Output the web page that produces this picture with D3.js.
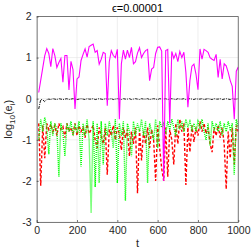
<!DOCTYPE html>
<html><head><meta charset="utf-8">
<script src="https://cdn.jsdelivr.net/npm/d3@7"></script>
<style>body{margin:0;background:#fff}svg{display:block}</style>
</head><body>
<script>
const tValues = d3.range(10, 1001, 10);
const magenta = [0.15,0.45,0.75,1.05,1.22,1.1,0.78,1.22,1.05,0.76,0.88,0.98,0.40,1.05,1.05,0.21,0.91,0.71,-0.25,0.48,0.53,0.93,1.08,1.21,1.01,1.27,1.3,1.33,1.13,1.17,0.84,0.96,1.13,1.1,-0.17,0.9,1.17,1.05,1.0,1.2,-0.5,0.85,1.18,0.96,1.18,1.0,1.25,0.85,0.9,1.11,1.24,1.0,1.1,1.17,1.2,0.44,0.72,0.76,1.1,1.25,1.26,1.16,-2.0,1.17,1.2,-0.6,1.15,0.98,1.1,0.9,1.15,1.0,1.13,0.64,-0.21,0.44,0.79,0.84,0.6,0.22,1.21,0.96,1.2,1.17,1.13,1.0,0.96,0.93,1.08,0.52,0.96,0.48,0.85,0.8,0.64,0.44,0.3,-0.5,0.67,0.77];
const black = [-0.25,-0.02,-0.03,-0.07,-0.02,-0.01,-0.02,0,-0.01,-0.02,0,-0.01,-0.02,-0.01,0,-0.02,-0.01,0,-0.01,-0.02,-0.01,0,-0.01,-0.02,0,-0.01,-0.01,0,-0.02,-0.01,0,-0.01,-0.02,0,-0.01,-0.01,0,-0.02,-0.01,0,-0.01,-0.02,0,-0.01,-0.01,0,-0.02,-0.01,0,-0.01,-0.02,0,-0.01,-0.01,0,-0.02,-0.01,0,-0.01,-0.02,0,-0.01,-0.01,0,-0.02,-0.01,0,-0.01,-0.02,0,-0.01,-0.01,0,-0.02,-0.01,0,-0.01,-0.02,0,-0.01,-0.01,0,-0.02,-0.01,0,-0.01,-0.02,0,-0.01,-0.01,0,-0.02,-0.01,0,-0.01,-0.02,0,-0.01,-0.01,0];
const red = [-0.6,-2.12,-0.65,-1.45,-0.6,-0.75,-0.62,-0.8,-0.65,-0.9,-0.6,-0.75,-0.68,-0.95,-0.6,-0.8,-0.7,-0.85,-0.6,-0.9,-0.65,-0.8,-0.7,-0.95,-0.62,-0.85,-0.75,-0.65,-1.0,-1.2,-0.7,-0.9,-1.1,-0.7,-1.85,-0.75,-0.9,-0.65,-1.0,-0.7,-0.85,-1.25,-0.7,-0.95,-0.75,-1.4,-0.8,-1.1,-0.7,-2.3,-0.75,-1.5,-0.8,-1.1,-0.7,-1.2,-0.75,-1.0,-2.0,-0.65,-1.2,-1.7,-2.0,-0.7,-1.9,-0.75,-1.0,-1.6,-0.6,-1.1,-0.5,-0.8,-0.6,-2.1,-0.7,-1.3,-0.65,-1.05,-0.7,-0.9,-0.55,-0.8,-0.6,-0.85,-0.7,-1.1,-1.3,-0.7,-0.9,-0.65,-0.95,-0.7,-1.1,-2.2,-0.8,-1.45,-0.7,-1.6,-0.65,-0.8];
const green = [-1.0,-0.5,-0.8,-0.45,-0.7,-1.35,-0.55,-0.9,-0.6,-0.75,-1.9,-0.6,-0.85,-1.4,-0.6,-0.8,-0.55,-0.9,-0.65,-0.8,-0.55,-1.65,-0.6,-0.9,-0.5,-1.0,-2.78,-0.55,-2.15,-0.6,-2.05,-0.55,-1.6,-0.6,-0.9,-0.55,-0.8,-1.2,-0.5,-2.05,-0.6,-0.9,-0.55,-2.48,-0.6,-0.8,-1.4,-0.55,-0.9,-0.6,-0.8,-0.5,-0.9,-0.55,-2.05,-0.6,-0.8,-1.0,-0.5,-1.2,-0.55,-0.7,-0.6,-0.85,-0.55,-0.75,-0.5,-0.7,-0.9,-0.5,-0.75,-0.55,-0.8,-0.5,-0.7,-0.55,-0.75,-0.6,-0.8,-0.55,-0.7,-0.5,-0.8,-1.0,-0.6,-1.15,-0.55,-0.75,-0.6,-0.8,-0.55,-0.9,-0.6,-0.8,-0.55,-0.75,-0.6,-1.85,-0.5,-0.7];
const xTicks = [0,200,400,600,800,1000];
const yTicks = [-3,-2,-1,0,1,2];
const titleText = "\u03F5=0.00001";

const W = 251, H = 251;
const m = {l:36.7, r:238.3, t:16.5, b:222};
const svg = d3.select("body").append("svg").attr("width",W).attr("height",H);
const x = d3.scaleLinear().domain([0,1000]).range([m.l,m.r]);
const y = d3.scaleLinear().domain([-3,2]).range([m.b,m.t]);
const font = "'Liberation Sans', Arial, Helvetica, sans-serif";
const fmt = d => String(d);

// grid
const g = svg.append("g");
g.selectAll(".gx").data(xTicks).join("line").attr("x1",d=>x(d)).attr("x2",d=>x(d)).attr("y1",m.t).attr("y2",m.b).attr("stroke","#e3e3e3").attr("stroke-width",0.6);
g.selectAll(".gy").data(yTicks).join("line").attr("y1",d=>y(d)).attr("y2",d=>y(d)).attr("x1",m.l).attr("x2",m.r).attr("stroke","#e3e3e3").attr("stroke-width",0.6);

svg.append("clipPath").attr("id","c").append("rect").attr("x",m.l).attr("y",m.t).attr("width",m.r-m.l).attr("height",m.b-m.t);
const lines = svg.append("g").attr("clip-path","url(#c)");
const line = d3.line().x((d,i)=>x(tValues[i])).y(d=>y(d));
lines.append("path").datum(red).attr("d",line).attr("fill","none").attr("stroke","#ff0000").attr("stroke-width",1.4).attr("stroke-dasharray","3,2");
lines.append("path").datum(green).attr("d",line).attr("fill","none").attr("stroke","#00ff00").attr("stroke-width",1.4).attr("stroke-dasharray","1,1");
lines.append("path").datum(black).attr("d",line).attr("fill","none").attr("stroke","#000").attr("stroke-width",0.9).attr("stroke-dasharray","3,1,1,1");
lines.append("path").datum(magenta).attr("d",line).attr("fill","none").attr("stroke","#ff00ff").attr("stroke-width",1.1);

// axes box
const ax = svg.append("g").attr("transform",`translate(0,${m.b})`).call(d3.axisBottom(x).tickValues(xTicks).tickFormat(fmt).tickSizeInner(-2).tickSizeOuter(0).tickPadding(5));
const ay = svg.append("g").attr("transform",`translate(${m.l},0)`).call(d3.axisLeft(y).tickValues(yTicks).tickFormat(fmt).tickSizeInner(-2).tickSizeOuter(0).tickPadding(5));
[ax,ay].forEach(a=>{a.selectAll("path,line").attr("stroke","#262626").attr("stroke-width",0.6);a.selectAll("text").attr("font-family",font).attr("font-size",10.5).attr("fill","#262626");});
svg.append("line").attr("x1",m.l).attr("x2",m.r).attr("y1",m.t).attr("y2",m.t).attr("stroke","#262626").attr("stroke-width",0.6);
svg.append("line").attr("x1",m.r).attr("x2",m.r).attr("y1",m.t).attr("y2",m.b).attr("stroke","#262626").attr("stroke-width",0.6);

svg.append("text").attr("x",(m.l+m.r)/2).attr("y",12).attr("text-anchor","middle").attr("font-family",font).attr("font-size",11).attr("fill","#000").text(titleText);
svg.append("text").attr("x",(m.l+m.r)/2).attr("y",247).attr("text-anchor","middle").attr("font-family",font).attr("font-size",11).attr("fill","#262626").text("t");
const yl = svg.append("text").attr("transform",`translate(12,${(m.t+m.b)/2}) rotate(-90)`).attr("text-anchor","middle").attr("font-family",font).attr("font-size",11).attr("fill","#262626");
yl.append("tspan").text("log");
yl.append("tspan").attr("font-size",8).attr("dy",3).text("10");
yl.append("tspan").attr("dy",-3).text("(e");
yl.append("tspan").attr("font-size",8).attr("dy",3).text("i");
yl.append("tspan").attr("dy",-3).text(")");
</script>
</body></html>
